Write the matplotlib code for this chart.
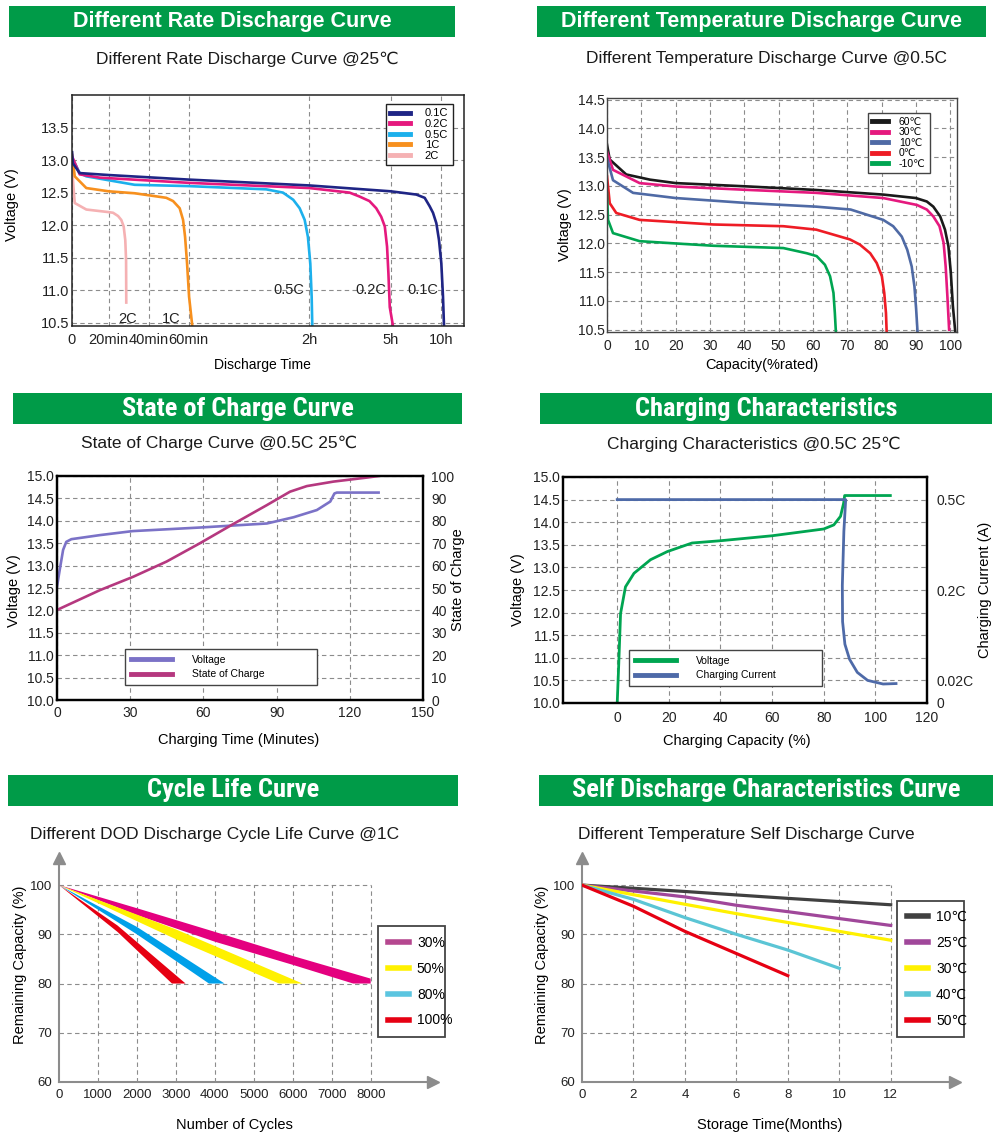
import numpy as np
import matplotlib
matplotlib.use('Agg')
import matplotlib.pyplot as plt
from matplotlib import font_manager
from matplotlib.lines import Line2D
from matplotlib.patches import Rectangle

plt.rcParams['font.family'] = ['Liberation Sans', 'DejaVu Sans']
plt.rcParams['axes.unicode_minus'] = False

# ---------------- data ----------------
# Different Rate Discharge Curve @25C  (time in minutes, voltage in V)
rate_names = ['0.1C', '0.2C', '0.5C', '1C', '2C']
rate_colors = ['#1f2585', '#e5197e', '#1cb0ec', '#f7901e', '#f5b1b3']
rate_t = [
    [0, 0.5, 4.2, 20, 60, 120, 300, 454, 504, 534, 554, 574, 590, 604, 614, 620],
    [0, 4.2, 15.1, 60, 120, 209, 231, 253, 268, 279, 287, 292, 295, 298, 314],
    [0, 4.2, 7.8, 33, 60, 98.6, 106.9, 112, 115.2, 117.7, 119.3, 122.2, 125.2, 126.6],
    [0, 1.5, 7.8, 20, 33, 48.8, 52.2, 55.5, 57.2, 58.2, 59.2, 60.2, 61.8],
    [0, 0.5, 1.5, 7.8, 20, 22.2, 24.7, 26.3, 27.5, 28.3, 28.7, 28.8],
]
rate_v = [
    [13.14, 12.95, 12.8, 12.77, 12.70, 12.61, 12.52, 12.47, 12.42, 12.29, 12.19, 12.03, 11.77, 11.41, 10.9, 10.45],
    [13.06, 12.78, 12.73, 12.65, 12.57, 12.5, 12.44, 12.37, 12.26, 12.13, 11.98, 11.67, 11.26, 10.74, 10.45],
    [13.04, 12.8, 12.75, 12.62, 12.6, 12.55, 12.5, 12.39, 12.26, 12.08, 11.82, 11.41, 10.9, 10.45],
    [13.09, 12.75, 12.57, 12.52, 12.49, 12.42, 12.37, 12.26, 12.08, 11.82, 11.41, 10.9, 10.45],
    [13.11, 12.7, 12.34, 12.24, 12.2, 12.19, 12.14, 12.08, 11.98, 11.77, 11.46, 10.79],
]
rate_ticks = [0, 20, 40, 60, 120, 300, 600]
rate_ticklabels = ['0', '20min', '40min', '60min', '2h', '5h', '10h']

# Different Temperature Discharge Curve @0.5C  (capacity %, voltage V)
temp_names = ['60℃', '30℃', '10℃', '0℃', '-10℃']
temp_colors = ['#1a1a1a', '#e5197e', '#4f6aa5', '#ee1c25', '#00a551']
temp_cap = [
    [0, 0.8, 5.6, 12.5, 20, 41.6, 61, 80.5, 90, 93.2, 95.1, 97.1, 98.5, 99.5, 100.2, 100.8, 101.5],
    [0, 1.75, 9.5, 20, 41.6, 61, 80.5, 90.3, 93.2, 95.1, 96.9, 98.1, 98.7, 99.2, 99.7],
    [0, 1.75, 7.6, 20, 41.6, 61, 71, 80.5, 83.4, 85.9, 87.5, 88.8, 89.6, 90.1, 90.5],
    [0, 0.8, 2.7, 9.5, 31, 51.4, 61, 70.8, 73.7, 76.7, 78.6, 80.1, 80.8, 81.3, 81.5],
    [0, 0.3, 1.75, 9.5, 20, 31, 51.4, 58.2, 61.1, 63.5, 65, 66, 66.4, 66.7],
]
temp_v = [
    [13.72, 13.46, 13.2, 13.11, 13.05, 12.99, 12.93, 12.85, 12.79, 12.73, 12.64, 12.47, 12.24, 11.95, 11.49, 10.91, 10.46],
    [13.6, 13.28, 13.05, 12.99, 12.93, 12.88, 12.79, 12.67, 12.59, 12.47, 12.3, 12.01, 11.6, 11.08, 10.5],
    [13.49, 13.1, 12.88, 12.79, 12.7, 12.64, 12.59, 12.41, 12.3, 12.12, 11.89, 11.6, 11.25, 10.85, 10.46],
    [13.17, 12.7, 12.53, 12.41, 12.33, 12.3, 12.24, 12.07, 11.98, 11.83, 11.66, 11.43, 11.14, 10.79, 10.46],
    [12.88, 12.41, 12.18, 12.04, 12.0, 11.96, 11.92, 11.83, 11.78, 11.63, 11.43, 11.14, 10.79, 10.46],
]

# State of Charge Curve @0.5C 25C  (minutes)
soc_volt_t = [0, 1.1, 2.5, 3.8, 5.9, 17.5, 31, 58.6, 86, 97, 106.5, 112, 113.7, 114.7, 131.8]
soc_volt = [12.53, 12.9, 13.35, 13.53, 13.59, 13.68, 13.77, 13.85, 13.94, 14.08, 14.24, 14.43, 14.61, 14.63, 14.63]
soc_t = [0, 17.5, 31.2, 44.9, 58.6, 72.3, 86, 95.5, 102.4, 113.3, 127, 131.8]
soc_pct = [40.2, 49, 55, 61.8, 70, 78.6, 87, 93, 95.5, 97.5, 99.3, 100]

# Charging Characteristics @0.5C 25C  (charging capacity %)
chg_cap_v = [0, 0.6, 1.3, 3.2, 6.5, 12.9, 19.4, 29, 40, 60, 80, 83.9, 86.5, 87.7, 88.1, 105.8]
chg_volt = [10.0, 10.87, 11.98, 12.57, 12.87, 13.17, 13.35, 13.54, 13.59, 13.7, 13.85, 13.94, 14.13, 14.42, 14.59, 14.59]
chg_cap_i = [0, 88.5, 87.8, 87.2, 87.3, 88.2, 90, 93, 97, 103, 108]
chg_curr = [0.5, 0.5, 0.395, 0.215, 0.137, 0.092, 0.062, 0.036, 0.02, 0.0168, 0.0172]
curr_ticks = [0, 0.02, 0.2, 0.5]
curr_ticklabels = ['0', '0.02C', '0.2C', '0.5C']

# Different DOD Discharge Cycle Life Curve @1C  (band edges)
dod_names = ['30%', '50%', '80%', '100%']
dod_colors = ['#e4007f', '#fff100', '#00a0e9', '#e60012']
dod_legend_colors = ['#b5478f', '#fff100', '#5bc5e0', '#e60012']
dod_up_x = [[0, 2000, 4000, 6000, 8000, 8000], [0, 3000, 6250], [0, 2000, 4250], [0, 1500, 3250]]
dod_up_y = [[100, 95.3, 90.5, 85.6, 81, 80], [100, 91, 80], [100, 91.5, 80], [100, 91.8, 80]]
dod_lo_x = [[0, 2000, 4000, 6000, 7550], [0, 3000, 5650], [0, 2000, 3850], [0, 1500, 2900]]
dod_lo_y = [[100, 93.9, 88.5, 83.8, 80], [100, 89, 80], [100, 90, 80], [100, 90.5, 80]]

# Different Temperature Self Discharge Curve  (months)
self_names = ['10℃', '25℃', '30℃', '40℃', '50℃']
self_colors = ['#404040', '#a0479a', '#fff100', '#5bc5d5', '#e60012']
self_m = [[0, 4, 8, 12], [0, 4, 6, 8, 10, 12], [0, 4, 6, 8, 10, 12], [0, 2, 4, 6, 8, 10], [0, 2, 4, 6, 8]]
self_cap = [[100, 98.7, 97.3, 96], [100, 97.6, 95.9, 94.6, 93.2, 91.8], [100, 96.1, 94.2, 92.4, 90.6, 88.8],
            [100, 97.1, 93.4, 90, 86.8, 83.1], [100, 95.7, 90.6, 86.1, 81.6]]

# ---------------- layout helpers ----------------
W, H = 1000, 1145
GREEN = '#009b48'
GRID = dict(color='#8c8c8c', linestyle=(0, (4, 3)), linewidth=0.8)
GRIDC = dict(colors='#8c8c8c', linestyles=(0, (4, 3)), linewidths=0.8)

fig = plt.figure(figsize=(10, 11.45), dpi=100)


def box(l, t, r, b):
    return [l / W, 1 - b / H, (r - l) / W, (b - t) / H]


names = {f.name for f in font_manager.fontManager.ttflist}
narrow = dict(family=['Liberation Sans', 'DejaVu Sans'], size=15.5)
for cand in ['Liberation Sans Narrow', 'Roboto Condensed', 'Open Sans Condensed', 'Arial Narrow']:
    if cand in names:
        narrow = dict(family=[cand, 'DejaVu Sans'], size=19)
        break


def header(l, r, t, b, text, font):
    fig.add_artist(Rectangle((l / W, 1 - b / H), (r - l) / W, (b - t) / H,
                             transform=fig.transFigure, color=GREEN, lw=0))
    fig.text((l + r) / 2 / W, 1 - (t + b) / 2 / H, text, color='white', weight='bold',
             ha='center', va='center', **font)


def subtitle(x, y, text):
    fig.text(x / W, 1 - y / H, text, ha='center', va='center', fontsize=12.5, color='#1a1a1a')


wide = dict(family=['Liberation Sans', 'DejaVu Sans'], size=15.5)
header(9, 455, 6, 37, 'Different Rate Discharge Curve', wide)
header(537, 986, 6, 37, 'Different Temperature Discharge Curve', wide)
header(13, 462, 393, 424, 'State of Charge Curve', narrow)
header(540, 992, 393, 424, 'Charging Characteristics', narrow)
header(8, 458, 775, 806, 'Cycle Life Curve', narrow)
header(539, 993, 775, 806, 'Self Discharge Characteristics Curve', narrow)

subtitle(247, 59, 'Different Rate Discharge Curve @25℃')
subtitle(767, 59, 'Different Temperature Discharge Curve @0.5C')
subtitle(219, 443, 'State of Charge Curve @0.5C 25℃')
subtitle(754, 444, 'Charging Characteristics @0.5C 25℃')
subtitle(215, 835, 'Different DOD Discharge Cycle Life Curve @1C')
subtitle(746, 835, 'Different Temperature Self Discharge Curve')


def frame(ax, color='black', lw=1.0):
    for s in ax.spines.values():
        s.set_color(color)
        s.set_linewidth(lw)


# ---------------- panel 1 ----------------
ax1 = fig.add_axes(box(72, 95, 464, 326))
t_knots = [-1000, 0, 20, 40, 60, 120, 300, 600, 5000]
p_knots = [-45.8, 0, 0.917, 1.917, 2.917, 5.933, 7.967, 9.217, 27.55]


def fwd(t):
    return np.interp(t, t_knots, p_knots)


def inv(p):
    return np.interp(p, p_knots, t_knots)


ax1.set_xscale('function', functions=(fwd, inv))
for t, v, c in zip(rate_t[::-1], rate_v[::-1], rate_colors[::-1]):
    ax1.plot(t, v, color=c, lw=1.9, solid_capstyle='butt', solid_joinstyle='round')
handles = [Line2D([], [], color=c, lw=3.5, label=n) for c, n in zip(rate_colors, rate_names)]
ax1.set_xlim(0, 740)
ax1.set_ylim(10.45, 14.0)
ax1.set_xticks(rate_ticks)
ax1.set_xticklabels(rate_ticklabels)
ax1.set_yticks(np.arange(10.5, 13.51, 0.5))
ax1.set_yticklabels([f'{y:.1f}' for y in np.arange(10.5, 13.51, 0.5)])
ax1.tick_params(length=0, labelsize=10.5, pad=2, labelcolor='#222222')
ax1.tick_params(axis='x', pad=5)
ax1.grid(True, **GRID)
ax1.set_axisbelow(True)
frame(ax1, '#222222', 1.1)
for txt, t, v in zip(rate_names, [494, 257, 110, 51.3, 29.6], [11.0, 11.0, 11.0, 10.56, 10.56]):
    ax1.text(t, v, txt, ha='center', va='center', fontsize=10.5, color='#222222')
ax1.legend(handles=handles, loc='upper right', bbox_to_anchor=(0.985, 0.985), fontsize=8,
           fancybox=False, edgecolor='#222222', framealpha=1, handlelength=1.8,
           handletextpad=1.3, labelspacing=0.05, borderpad=0.4).get_frame().set_linewidth(1.0)
ax1.set_xlabel('Discharge Time', fontsize=10)
ax1.xaxis.set_label_coords(0.485, -0.139)
ax1.set_ylabel('Voltage (V)', fontsize=10.5)
ax1.yaxis.set_label_coords(-0.135, 0.524)

# ---------------- panel 2 ----------------
ax2 = fig.add_axes(box(607, 98, 957, 332))
for x, v, c in zip(temp_cap, temp_v, temp_colors):
    ax2.plot(x, v, color=c, lw=1.9, solid_joinstyle='round')
ax2.set_xlim(0, 102)
ax2.set_ylim(10.46, 14.53)
ax2.set_xticks(np.arange(0, 101, 10))
ax2.set_yticks(np.arange(10.5, 14.51, 0.5))
ax2.set_yticklabels([f'{y:.1f}' for y in np.arange(10.5, 14.51, 0.5)])
ax2.tick_params(length=0, labelsize=10, pad=1.5, labelcolor='#222222')
ax2.tick_params(axis='x', pad=5)
ax2.grid(True, **GRID)
ax2.set_axisbelow(True)
frame(ax2, '#444444', 1.0)
h2 = [Line2D([], [], color=c, lw=3.5, label=n) for c, n in zip(temp_colors, temp_names)]
ax2.legend(handles=h2, loc='upper right', bbox_to_anchor=(0.937, 0.96), fontsize=7.5,
           fancybox=False, edgecolor='#444444', framealpha=1, handlelength=1.6,
           handletextpad=1.0, labelspacing=0.05, borderpad=0.4)
ax2.set_xlabel('Capacity(%rated)', fontsize=10.5)
ax2.xaxis.set_label_coords(0.443, -0.111)
ax2.set_ylabel('Voltage (V)', fontsize=10.5)
ax2.yaxis.set_label_coords(-0.1, 0.457)

# ---------------- panel 3 ----------------
ax3 = fig.add_axes(box(57, 476, 423, 700))
ax3r = ax3.twinx()
ax3.plot(soc_volt_t, soc_volt, color='#7b72c7', lw=1.9)
ax3r.plot(soc_t, soc_pct, color='#b5387f', lw=1.9)
ax3.set_xlim(0, 150)
ax3.set_ylim(10, 15)
ax3r.set_ylim(0, 100)
ax3.set_xticks(np.arange(0, 151, 30))
ax3.set_yticks(np.arange(10, 15.01, 0.5))
ax3.set_yticklabels([f'{y:.1f}' for y in np.arange(10, 15.01, 0.5)])
ax3r.set_yticks(np.arange(0, 101, 10))
ax3.tick_params(length=0, labelsize=10, pad=2, labelcolor='#222222')
ax3.tick_params(axis='x', pad=4)
ax3r.tick_params(length=0, labelsize=10, pad=6, labelcolor='#222222')
ax3.grid(True, **GRID)
ax3.set_axisbelow(True)
frame(ax3, 'black', 1.6)
frame(ax3r, 'black', 1.6)
h3 = [Line2D([], [], color='#7b72c7', lw=3.5, label='Voltage'),
      Line2D([], [], color='#b5387f', lw=3.5, label='State of Charge')]
ax3r.legend(handles=h3, loc='lower left', bbox_to_anchor=(0.186, 0.067, 0.525, 0.17), mode='expand',
            fontsize=7.5, fancybox=False, edgecolor='#444444', framealpha=1, handlelength=4,
            handletextpad=1.9, labelspacing=0.45, borderpad=0.55, borderaxespad=0)
ax3.set_xlabel('Charging Time (Minutes)', fontsize=10.5)
ax3.xaxis.set_label_coords(0.495, -0.147)
ax3.set_ylabel('Voltage (V)', fontsize=10.5)
ax3.yaxis.set_label_coords(-0.098, 0.49)
ax3r.set_ylabel('State of Charge', fontsize=10.5, rotation=90)
ax3r.yaxis.set_label_coords(1.077, 0.536)

# ---------------- panel 4 ----------------
ax4 = fig.add_axes(box(563, 477, 927, 703))
ax4r = ax4.twinx()
c_knots = [-1, 0, 0.02, 0.2, 0.5, 2]
q_knots = [-25, 0, 0.5, 2.5, 4.5, 14.5]


def cfwd(c):
    return np.interp(c, c_knots, q_knots)


def cinv(q):
    return np.interp(q, q_knots, c_knots)


ax4r.set_yscale('function', functions=(cfwd, cinv))
ax4.plot(chg_cap_v, chg_volt, color='#00a551', lw=2.0)
ax4r.plot(chg_cap_i, chg_curr, color='#4e6aa8', lw=2.0)
ax4.set_xlim(-21, 120)
ax4.set_ylim(10, 15)
ax4r.set_ylim(0, 0.575)
ax4.set_xticks(np.arange(0, 121, 20))
ax4.set_yticks(np.arange(10, 15.01, 0.5))
ax4.set_yticklabels([f'{y:.1f}' for y in np.arange(10, 15.01, 0.5)])
ax4r.set_yticks(curr_ticks)
ax4r.set_yticklabels(curr_ticklabels)
ax4r.yaxis.set_minor_locator(matplotlib.ticker.NullLocator())
ax4.tick_params(length=0, labelsize=10, pad=2, labelcolor='#222222')
ax4.tick_params(axis='x', pad=6)
ax4r.tick_params(length=0, labelsize=10, pad=7, labelcolor='#222222')
ax4.grid(True, **GRID)
ax4.set_axisbelow(True)
frame(ax4, 'black', 1.6)
frame(ax4r, 'black', 1.6)
h4 = [Line2D([], [], color='#00a551', lw=3.5, label='Voltage'),
      Line2D([], [], color='#4e6aa8', lw=3.5, label='Charging Current')]
ax4r.legend(handles=h4, loc='lower left', bbox_to_anchor=(0.181, 0.075, 0.53, 0.16), mode='expand',
            fontsize=7.5, fancybox=False, edgecolor='#444444', framealpha=1, handlelength=4,
            handletextpad=1.9, labelspacing=0.45, borderpad=0.55, borderaxespad=0)
ax4.set_xlabel('Charging Capacity (%)', fontsize=10.5)
ax4.xaxis.set_label_coords(0.478, -0.137)
ax4.set_ylabel('Voltage (V)', fontsize=10.5)
ax4.yaxis.set_label_coords(-0.104, 0.5)
ax4r.set_ylabel('Charging Current (A)', fontsize=10.5, rotation=90)
ax4r.yaxis.set_label_coords(1.14, 0.5)


# ---------------- panels 5 and 6 ----------------
def arrow_axes(ax, xmax, ymax, xgrid, ygrid, xticks):
    ax.set_xlim(0, xmax)
    ax.set_ylim(60, ymax)
    ax.hlines(ygrid, 0, xgrid[-1], zorder=1, **GRIDC)
    ax.vlines(xgrid, 60, ygrid[-1], zorder=1, **GRIDC)
    for s in ['top', 'right']:
        ax.spines[s].set_visible(False)
    for s in ['left', 'bottom']:
        ax.spines[s].set_color('#8c8c8c')
        ax.spines[s].set_linewidth(1.5)
    ax.plot([1], [0], marker='>', ms=9, color='#8c8c8c', transform=ax.transAxes, clip_on=False)
    ax.plot([0], [1], marker='^', ms=9, color='#8c8c8c', transform=ax.transAxes, clip_on=False)
    ax.set_xticks(xticks)
    ax.set_yticks(np.arange(60, 101, 10))
    ax.tick_params(length=0, labelsize=9.5, colors='#222222', pad=5)
    ax.patch.set_alpha(0)


ax5 = fig.add_axes(box(59, 858, 433, 1082))
arrow_axes(ax5, 9600, 105.5, np.arange(1000, 8001, 1000), [70, 80, 90, 100], np.arange(0, 8001, 1000))
for ux, uy, lx, ly, c in zip(dod_up_x, dod_up_y, dod_lo_x, dod_lo_y, dod_colors):
    ax5.fill(np.r_[ux, lx[::-1]], np.r_[uy, ly[::-1]], color=c, lw=0, zorder=3)
h5 = [Line2D([], [], color=c, lw=4, label=n) for c, n in zip(dod_legend_colors, dod_names)]
ax5.legend(handles=h5, loc='lower left', bbox_to_anchor=(0.853, 0.2, 0.179, 0.492), mode='expand',
           fontsize=10, fancybox=False, edgecolor='#444444', framealpha=1, handlelength=1.5,
           handletextpad=0.6, labelspacing=0.85, borderpad=0.7, borderaxespad=0).get_frame().set_linewidth(1.3)
ax5.set_xlabel('Number of Cycles', fontsize=10.5)
ax5.xaxis.set_label_coords(0.47, -0.161)
ax5.set_ylabel('Remaining Capacity (%)', fontsize=10.5)
ax5.yaxis.set_label_coords(-0.086, 0.522)

ax6 = fig.add_axes(box(582, 858, 955, 1082))
arrow_axes(ax6, 14.5, 105.5, np.arange(2, 13, 2), [70, 80, 90, 100], np.arange(0, 13, 2))
for m, cap, c in zip(self_m, self_cap, self_colors):
    ax6.plot(m, cap, color=c, lw=2.3, zorder=3)
h6 = [Line2D([], [], color=c, lw=4, label=n) for c, n in zip(self_colors, self_names)]
ax6.legend(handles=h6, loc='lower left', bbox_to_anchor=(0.845, 0.2, 0.179, 0.608), mode='expand',
           fontsize=10, fancybox=False, edgecolor='#444444', framealpha=1, handlelength=1.5,
           handletextpad=0.6, labelspacing=0.85, borderpad=0.7, borderaxespad=0).get_frame().set_linewidth(1.3)
ax6.set_xlabel('Storage Time(Months)', fontsize=10.5)
ax6.xaxis.set_label_coords(0.504, -0.161)
ax6.set_ylabel('Remaining Capacity (%)', fontsize=10.5)
ax6.yaxis.set_label_coords(-0.088, 0.522)

fig.savefig('out.png', dpi=100)
